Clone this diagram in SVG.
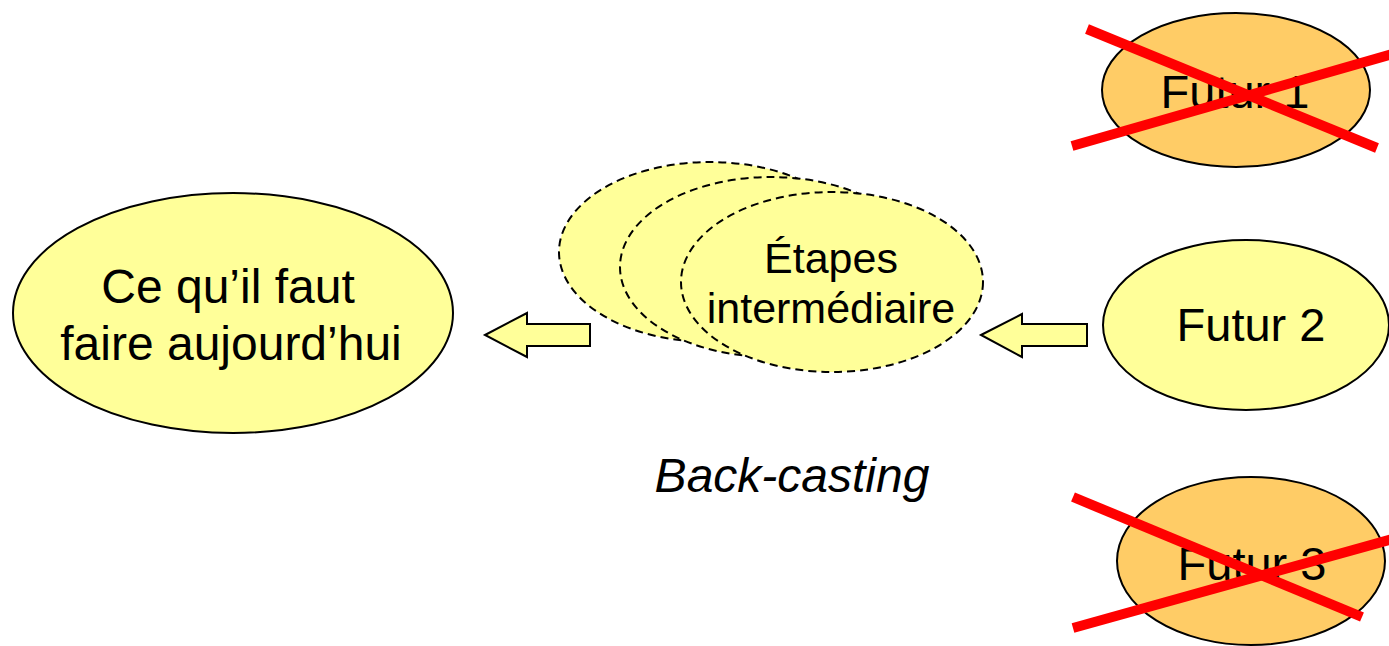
<svg xmlns="http://www.w3.org/2000/svg" width="1389" height="646" viewBox="0 0 1389 646">
  <style>
    .lbl { font-family: "Liberation Sans", Arial, sans-serif; fill: #000; text-anchor: middle; }
    .node { fill: #FFFF99; stroke: #000; stroke-width: 2; }
    .crossed { fill: #FFCC66; stroke: #000; stroke-width: 2; }
    .step { fill: #FFFF99; stroke: #000; stroke-width: 2; stroke-dasharray: 8 5; }
    .arrow { fill: #FFFF99; stroke: #000; stroke-width: 2; stroke-linejoin: miter; }
    .cross { stroke: #FF0000; stroke-width: 10; fill: none; }
  </style>

  <rect width="1389" height="646" fill="#FFFFFF"/>

  <!-- today -->
  <g id="today">
    <ellipse class="node" cx="233" cy="313" rx="220" ry="120"/>
    <text class="lbl" x="228" y="303" font-size="48">Ce qu’il faut</text>
    <text class="lbl" x="231" y="360" font-size="48">faire aujourd’hui</text>
  </g>

  <!-- intermediate steps: three stacked dashed ellipses -->
  <g id="steps">
    <ellipse class="step" cx="710" cy="252" rx="151" ry="90"/>
    <ellipse class="step" cx="771" cy="267" rx="151" ry="90"/>
    <ellipse class="step" cx="832" cy="282" rx="151" ry="90"/>
    <text class="lbl" x="831" y="273" font-size="43">Étapes</text>
    <text class="lbl" x="831" y="323" font-size="43">intermédiaire</text>
  </g>

  <!-- futures -->
  <g id="futur1">
    <ellipse class="crossed" cx="1236" cy="90" rx="134" ry="77"/>
    <text class="lbl" x="1235" y="108" font-size="47">Futur 1</text>
    <line class="cross" x1="1087" y1="29" x2="1377" y2="148"/>
    <line class="cross" x1="1072" y1="146" x2="1396" y2="53"/>
  </g>

  <g id="futur2">
    <ellipse class="node" cx="1246" cy="325" rx="143" ry="85"/>
    <text class="lbl" x="1251" y="341" font-size="47">Futur 2</text>
  </g>

  <g id="futur3">
    <ellipse class="crossed" cx="1251" cy="561" rx="134" ry="84"/>
    <text class="lbl" x="1252" y="580" font-size="47">Futur 3</text>
    <line class="cross" x1="1073" y1="497" x2="1362" y2="617"/>
    <line class="cross" x1="1073" y1="628" x2="1396" y2="538"/>
  </g>

  <!-- caption -->
  <g id="caption">
    <text class="lbl" x="792" y="492" font-size="48" font-style="italic">Back-casting</text>
  </g>

  <!-- block arrows -->
  <g id="connectors">
    <path class="arrow" d="M485 335 L527 313 L527 324 L590 324 L590 346 L527 346 L527 357 Z"/>
    <path class="arrow" d="M981 335 L1022 314 L1022 324 L1087 324 L1087 346 L1022 346 L1022 357 Z"/>
  </g>
</svg>
